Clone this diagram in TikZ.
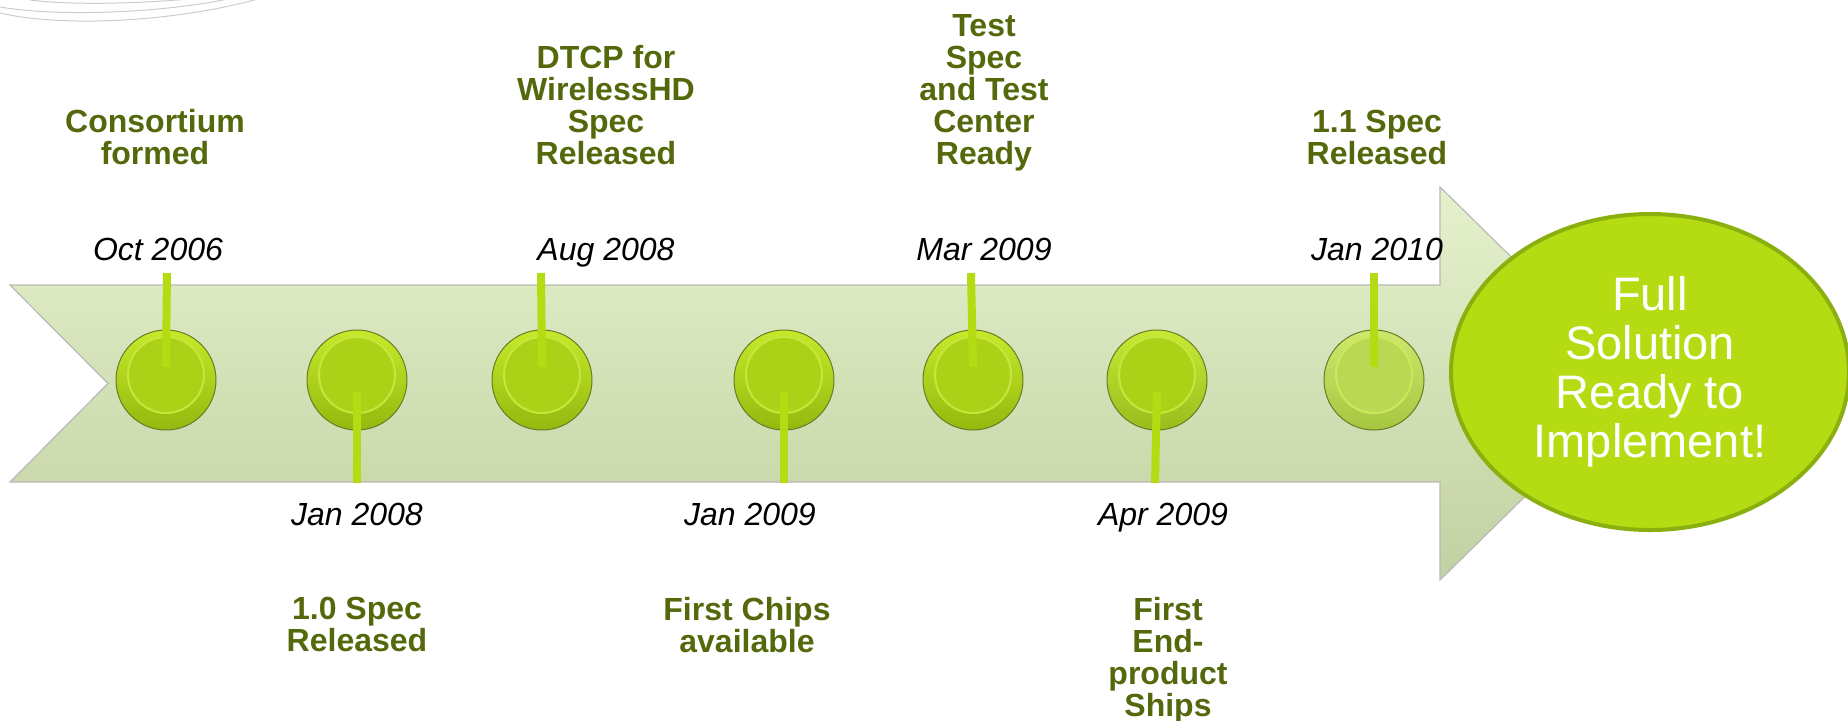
\documentclass[tikz,border=0pt]{standalone}
\usepackage{fontspec}
\setmainfont{Liberation Sans}
\usetikzlibrary{shapes.geometric, positioning}
\definecolor{labelgreen}{RGB}{84, 104, 12}
\definecolor{limegreen}{RGB}{181, 220, 18}
\definecolor{limedark}{RGB}{138, 176, 16}
\definecolor{bandtop}{RGB}{229, 241, 204}
\definecolor{bandbottom}{RGB}{194, 209, 162}
\definecolor{dottop}{RGB}{198, 234, 42}
\definecolor{dotbottom}{RGB}{148, 184, 14}
\definecolor{dotinner}{RGB}{172, 210, 24}
\definecolor{dotrim}{RGB}{104, 124, 38}
\definecolor{dotshine}{RGB}{222, 246, 90}
\definecolor{paletop}{RGB}{206, 232, 110}
\definecolor{palebottom}{RGB}{166, 198, 64}
\definecolor{paleinner}{RGB}{186, 216, 84}

\begin{document}
\begin{tikzpicture}[x=0.5pt, y=-0.5pt,
  dot/.style={circle, minimum size=50pt, inner sep=0pt, draw=dotrim, line width=0.5pt,
    top color=dottop, bottom color=dotbottom,
    path picture={\draw[line width=1pt, draw=#1!45!dotshine, fill=#1]
      ([yshift=2.5pt]path picture bounding box.center) circle (19pt);}},
  dot/.default=dotinner,
  stem/.style={line width=4pt, draw=limegreen},
  event/.style={font=\fontsize{16}{16}\selectfont\bfseries, text=labelgreen, align=center, inner sep=0pt},
  datelbl/.style={font=\fontsize{16}{16}\selectfont\itshape, inner sep=0pt, anchor=base},
  goal/.style={ellipse, minimum width=199pt, minimum height=158pt, inner sep=0pt,
    fill=limegreen, draw=limedark, line width=2pt, text=white, align=center,
    font=\fontsize{23.5}{24.5}\selectfont}
]
  \useasboundingbox (0,0) rectangle (1848,720);

  % faint arcs in the corner
  \draw[gray!40, line width=0.5pt] (0,13) .. controls (60,27) and (170,23) .. (258,-1);
  \draw[gray!40, line width=0.5pt] (0,7) .. controls (60,17) and (160,13) .. (228,-1);
  \draw[gray!40, line width=0.5pt] (30,0) .. controls (70,5) and (130,4) .. (190,-1);

  % Timeline band
  \path[draw=gray!55, line width=0.6pt, top color=bandtop, bottom color=bandbottom]
    (10,285) -- (1440,285) -- (1440,187) -- (1640,383.5) -- (1440,580)
    -- (1440,482) -- (10,482) -- (108,383.5) -- cycle;

  % Milestones
  \node[dot] (c1) at (166,380) {};
  \node[dot] (c2) at (357,380) {};
  \node[dot] (c3) at (542,380) {};
  \node[dot] (c4) at (784,380) {};
  \node[dot] (c5) at (973,380) {};
  \node[dot, top color=dottop!85!paletop, bottom color=dotbottom!70!palebottom] (c6) at (1157,380) {};
  \node[dot=paleinner, top color=paletop, bottom color=palebottom] (c7) at (1374,380) {};

  % Stems
  \coordinate (t1) at (167,273);
  \coordinate (t3) at (541,273);
  \coordinate (t5) at (971,273);
  \coordinate (t7) at (1374,273);
  \coordinate (e2) at (357,483);
  \coordinate (e4) at (784,483);
  \coordinate (e6) at (1155,483);
  \draw[stem] (t1) -- ([yshift=6.5pt]c1.center);
  \draw[stem] (t3) -- ([yshift=6.5pt]c3.center);
  \draw[stem] (t5) -- ([yshift=6.5pt]c5.center);
  \draw[stem] (t7) -- ([yshift=6.5pt]c7.center);
  \draw[stem] ([yshift=-6pt]c2.center) -- (e2);
  \draw[stem] ([yshift=-6pt]c4.center) -- (e4);
  \draw[stem] ([yshift=-6pt]c6.center) -- (e6);

  % Goal
  \node[goal] (goal) at (1650,372) {Full\\Solution\\Ready to\\Implement!};

  % Dates
  \node[datelbl] (d1) at (158,260) {Oct 2006};
  \node[datelbl] (d3) at (606,260) {Aug 2008};
  \node[datelbl] (d5) at (984,260) {Mar 2009};
  \node[datelbl] (d7) at (1377,260) {Jan 2010};
  \node[datelbl] (d2) at (357,525) {Jan 2008};
  \node[datelbl] (d4) at (750,525) {Jan 2009};
  \node[datelbl] (d6) at (1163,525) {Apr 2009};

  % Events above
  \node[event, anchor=base] (l1) at (155,164) {Consortium\\formed};
  \node[event, anchor=base] (l3) at (606,164) {DTCP for\\WirelessHD\\Spec\\Released};
  \node[event, anchor=base] (l5) at (984,164) {Test\\Spec\\and Test\\Center\\Ready};
  \node[event, anchor=base] (l7) at (1377,164) {1.1 Spec\\Released};

  % Events below
  \node[event, anchor=north] (l2) at (357,597) {1.0 Spec\\Released};
  \node[event, anchor=north] (l4) at (747,597) {First Chips\\available};
  \node[event, anchor=north] (l6) at (1168,597) {First\\End-\\product\\Ships};
\end{tikzpicture}
\end{document}
